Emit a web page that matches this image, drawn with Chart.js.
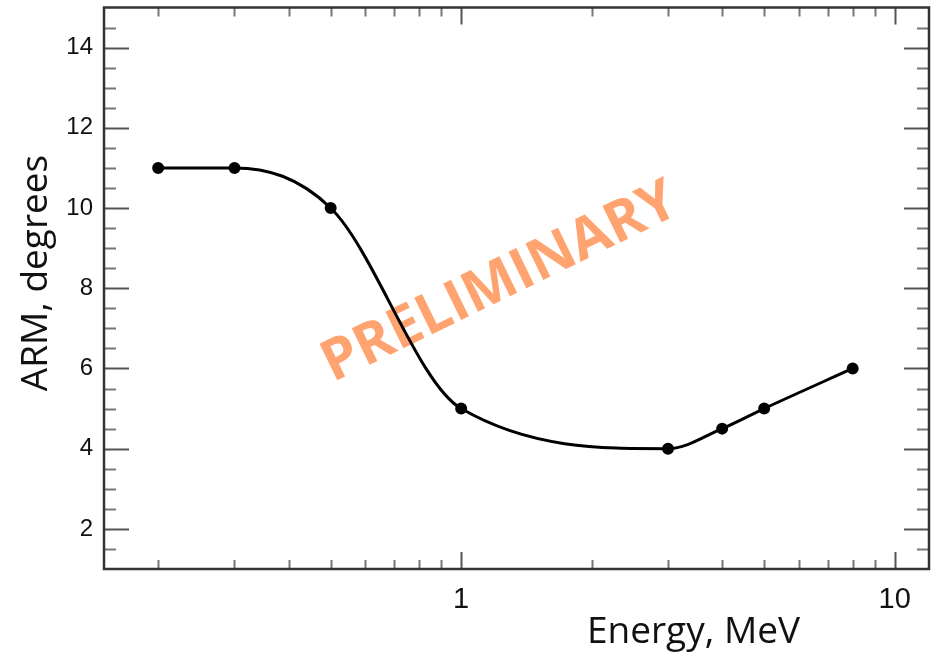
<!DOCTYPE html>
<html>
<head>
<meta charset="utf-8">
<title>ARM vs Energy</title>
<script src="https://cdn.jsdelivr.net/npm/chart.js@4.4.1/dist/chart.umd.min.js"></script>
<style>
  html, body { margin: 0; padding: 0; background: #fff; }
  #wrap { width: 940px; height: 654px; }
</style>
</head>
<body>
<div id="wrap"><canvas id="chart" width="940" height="654"></canvas></div>
<script>
// Data
const ENERGY_MEV = [0.2, 0.3, 0.5, 1, 3, 4, 5, 8];
const ARM_DEG = [11, 11, 10, 5, 4, 4.5, 5, 6];

// Axis ticks
const X_TICKS = [1, 10];
const X_MINOR = [0.2, 0.3, 0.4, 0.5, 0.6, 0.7, 0.8, 0.9, 2, 3, 4, 5, 6, 7, 8, 9];
const Y_TICKS = [2, 4, 6, 8, 10, 12, 14];
const Y_MINOR = [1.5, 2.5, 3, 3.5, 4.5, 5, 5.5, 6.5, 7, 7.5, 8.5, 9, 9.5,
                 10.5, 11, 11.5, 12.5, 13, 13.5, 14.5];

const X_TITLE = 'Energy, MeV';
const Y_TITLE = 'ARM, degrees';
const WATERMARK = 'PRELIMINARY';

// ROOT-style frame with ticks drawn inward on all four sides
const framePlugin = {
  id: 'frame',
  afterDatasetsDraw(chart) {
    const { ctx, chartArea: a, scales } = chart;
    const xs = scales.x, ys = scales.y;
    ctx.save();

    ctx.lineWidth = 2;
    ctx.strokeStyle = '#555';
    ctx.beginPath();
    for (const v of Y_TICKS) {
      const p = Math.round(ys.getPixelForValue(v)) + 0.5;
      ctx.moveTo(a.left, p); ctx.lineTo(a.left + 25, p);
      ctx.moveTo(a.right, p); ctx.lineTo(a.right - 25, p);
    }
    for (const v of X_TICKS) {
      const p = Math.round(xs.getPixelForValue(v)) + 0.5;
      ctx.moveTo(p, a.bottom); ctx.lineTo(p, a.bottom - 17);
      ctx.moveTo(p, a.top); ctx.lineTo(p, a.top + 17);
    }
    ctx.stroke();

    ctx.strokeStyle = '#777';
    ctx.beginPath();
    for (const v of Y_MINOR) {
      const p = Math.round(ys.getPixelForValue(v)) + 0.5;
      ctx.moveTo(a.left, p); ctx.lineTo(a.left + 12, p);
      ctx.moveTo(a.right, p); ctx.lineTo(a.right - 12, p);
    }
    for (const v of X_MINOR) {
      const p = Math.round(xs.getPixelForValue(v)) + 0.5;
      ctx.moveTo(p, a.bottom); ctx.lineTo(p, a.bottom - 9);
      ctx.moveTo(p, a.top); ctx.lineTo(p, a.top + 9);
    }
    ctx.stroke();

    ctx.lineWidth = 2.5;
    ctx.strokeStyle = '#333';
    ctx.strokeRect(a.left, a.top, a.right - a.left, a.bottom - a.top);

    // axis titles
    ctx.fillStyle = '#111';
    ctx.font = '37px "Open Sans"';
    ctx.textBaseline = 'alphabetic';
    ctx.textAlign = 'right';
    ctx.fillText(X_TITLE, 800, 643);

    ctx.translate(47, 273);
    ctx.rotate(-Math.PI / 2);
    ctx.textAlign = 'center';
    ctx.fillText(Y_TITLE, 0, 0);
    ctx.restore();
  }
};

const watermarkPlugin = {
  id: 'watermark',
  beforeDatasetsDraw(chart) {
    const { ctx } = chart;
    ctx.save();
    ctx.translate(500, 283);
    ctx.rotate(-26 * Math.PI / 180);
    ctx.font = 'bold 57px "Open Sans"';
    ctx.fillStyle = '#ffa470';
    ctx.textAlign = 'center';
    ctx.textBaseline = 'middle';
    ctx.fillText(WATERMARK, 0, 0);
    ctx.restore();
  }
};

// keep the plot frame exactly where the reference has it
function noEdgePadding(scale) {
  scale.paddingTop = 0;
  scale.paddingBottom = 0;
  scale.paddingLeft = 0;
  scale.paddingRight = 0;
}

new Chart(document.getElementById('chart'), {
  type: 'line',
  data: {
    datasets: [{
      data: ENERGY_MEV.map((e, i) => ({ x: e, y: ARM_DEG[i] })),
      borderColor: '#000',
      backgroundColor: '#000',
      borderWidth: 3,
      pointRadius: 4.5,
      pointHoverRadius: 4.5,
      cubicInterpolationMode: 'monotone',
      fill: false,
    }],
  },
  options: {
    responsive: false,
    animation: false,
    devicePixelRatio: 1,
    layout: { padding: { top: 7, right: 11, left: 0, bottom: 0 } },
    plugins: {
      legend: { display: false },
      tooltip: { enabled: false },
    },
    scales: {
      x: {
        type: 'logarithmic',
        min: 0.15,
        max: 12,
        grid: { display: false, drawTicks: false },
        border: { display: false },
        afterBuildTicks: (scale) => { scale.ticks = X_TICKS.map(v => ({ value: v })); },
        afterFit: (scale) => { scale.height = 85; noEdgePadding(scale); },
        ticks: {
          autoSkip: false,
          maxRotation: 0,
          padding: 14,
          color: '#111',
          font: { family: '"Liberation Sans", Arial, sans-serif', size: 29 },
          callback: (v) => String(v),
        },
      },
      y: {
        type: 'linear',
        min: 1,
        max: 15,
        grid: { display: false, drawTicks: false },
        border: { display: false },
        afterBuildTicks: (scale) => { scale.ticks = Y_TICKS.map(v => ({ value: v })); },
        afterFit: (scale) => { scale.width = 104; noEdgePadding(scale); },
        ticks: {
          padding: 11,
          color: '#111',
          font: { family: '"Liberation Sans", Arial, sans-serif', size: 24 },
        },
      },
    },
  },
  plugins: [watermarkPlugin, framePlugin],
});
</script>
</body>
</html>
